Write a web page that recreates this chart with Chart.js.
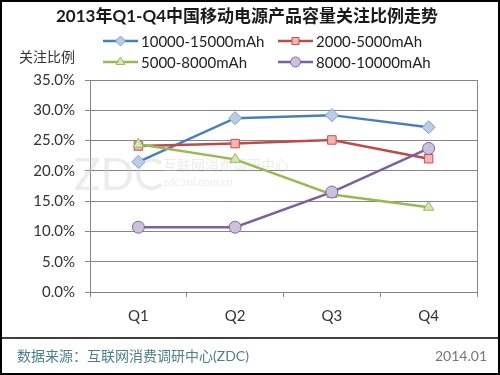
<!DOCTYPE html>
<html>
<head>
<meta charset="utf-8">
<script src="https://cdn.jsdelivr.net/npm/chart.js@4/dist/chart.umd.min.js"></script>
<style>
  html, body { margin: 0; padding: 0; background: #fff; }
  #wrap { width: 500px; height: 375px; position: relative; }
</style>
</head>
<body>
<div id="wrap"><canvas id="trend-chart" width="500" height="375"></canvas></div>
<script>
var quarters = ['Q1', 'Q2', 'Q3', 'Q4'];
var seriesNames = ['10000-15000mAh', '2000-5000mAh', '5000-8000mAh', '8000-10000mAh'];
var cap10000to15000 = [21.5, 28.7, 29.2, 27.2];
var cap2000to5000 = [24.1, 24.5, 25.1, 22.0];
var cap5000to8000 = [24.4, 21.9, 16.1, 14.0];
var cap8000to10000 = [10.7, 10.7, 16.5, 23.7];
var yTicks = [0, 5, 10, 15, 20, 25, 30, 35];

var FONT = 'Lato, "Noto Sans CJK SC", sans-serif';

function series(i, data, line, fill, edge, style, order) {
    return {
        label: seriesNames[i],
        data: data,
        borderColor: line,
        borderWidth: 2.5,
        pointStyle: style,
        pointRadius: style === 'rectRot' ? 6.5 : 6,
        pointBackgroundColor: fill,
        pointBorderColor: edge,
        pointBorderWidth: 1,
        tension: 0,
        order: order
    };
}

// title, legend, axis name, footer, frame
var decorations = {
    id: 'decorations',
    beforeDatasetsDraw: function (chart) {
        var ctx = chart.ctx;
        ctx.save();
        ctx.fillStyle = 'rgba(200,200,200,0.35)';
        ctx.font = '44px ' + FONT;
        ctx.textBaseline = 'alphabetic';
        ctx.fillText('ZDC', 74, 190);
        ctx.font = '14px ' + FONT;
        ctx.fillText('互联网消费调研中心', 163, 170);
        ctx.font = '11px ' + FONT;
        ctx.fillText('zdc.zol.com.cn', 163, 186);
        // right border of plot
        var a = chart.chartArea;
        ctx.strokeStyle = '#868686';
        ctx.lineWidth = 1;
        ctx.beginPath();
        ctx.moveTo(Math.round(a.right) + 0.5, a.top);
        ctx.lineTo(Math.round(a.right) + 0.5, a.bottom);
        ctx.stroke();
        ctx.restore();
    },
    afterDraw: function (chart) {
        var ctx = chart.ctx;
        ctx.save();
        ctx.textBaseline = 'middle';

        ctx.fillStyle = '#1a1a1a';
        ctx.font = 'bold 17px ' + FONT;
        ctx.textAlign = 'center';
        ctx.fillText('2013年Q1-Q4中国移动电源产品容量关注比例走势', 247, 17);

        ctx.font = '14px ' + FONT;
        ctx.textAlign = 'left';
        ctx.fillStyle = '#333';
        ctx.fillText('关注比例', 19, 57);

        var pos = [[103, 41], [278, 41], [103, 62], [278, 62]];
        chart.data.datasets.forEach(function (ds, i) {
            var x = pos[i][0], y = pos[i][1];
            ctx.strokeStyle = ds.borderColor;
            ctx.lineWidth = 2.5;
            ctx.beginPath();
            ctx.moveTo(x, y);
            ctx.lineTo(x + 35, y);
            ctx.stroke();
            ctx.fillStyle = ds.pointBackgroundColor;
            ctx.strokeStyle = ds.pointBorderColor;
            ctx.lineWidth = 1;
            Chart.helpers.drawPoint(ctx, { pointStyle: ds.pointStyle, radius: 5, rotation: 0, borderWidth: 1 }, x + 17.5, y);
            ctx.fillStyle = '#222';
            ctx.font = '15px ' + FONT;
            ctx.fillText(ds.label, x + 38, y + 1);
        });

        ctx.strokeStyle = '#000';
        ctx.lineWidth = 1.5;
        ctx.beginPath();
        ctx.moveTo(0, 338);
        ctx.lineTo(500, 338);
        ctx.stroke();
        ctx.lineWidth = 2;
        ctx.strokeRect(1, 1, 498, 373);

        ctx.font = '14px ' + FONT;
        ctx.fillStyle = '#4d7f8e';
        ctx.fillText('数据来源：互联网消费调研中心(ZDC)', 17, 356);
        ctx.textAlign = 'right';
        ctx.fillStyle = '#777';
        ctx.fillText('2014.01', 487, 356);
        ctx.restore();
    }
};

new Chart(document.getElementById('trend-chart').getContext('2d'), {
    type: 'line',
    data: {
        labels: quarters,
        datasets: [
            series(0, cap10000to15000, '#4a7ebb', '#b9cde5', '#7f9fcf', 'rectRot', 4),
            series(1, cap2000to5000, '#be4b48', '#f2b5b3', '#c0504d', 'rect', 3),
            series(2, cap5000to8000, '#98b954', '#d7e4bd', '#9bbb59', 'triangle', 2),
            series(3, cap8000to10000, '#7d5fa0', '#ccc1da', '#8064a2', 'circle', 1)
        ]
    },
    options: {
        responsive: false,
        animation: false,
        layout: { padding: { left: 10, right: 23, top: 80, bottom: 43 } },
        plugins: { legend: { display: false }, title: { display: false }, tooltip: { enabled: false } },
        scales: {
            x: {
                offset: true,
                grid: { offset: true, drawOnChartArea: false, drawTicks: true, tickLength: 5, color: '#868686' },
                border: { color: '#868686' },
                ticks: { color: '#333', font: { size: 15, family: FONT }, padding: 10 },
                afterFit: function (s) { s.height = 40; }
            },
            y: {
                min: 0,
                max: 35,
                afterBuildTicks: function (s) { s.ticks = yTicks.map(function (v) { return { value: v }; }); },
                grid: { color: '#868686', tickLength: 5 },
                border: { color: '#868686' },
                ticks: {
                    color: '#333',
                    font: { size: 15, family: FONT },
                    padding: 10,
                    callback: function (v) { return v.toFixed(1) + '%'; }
                },
                afterFit: function (s) { s.width = 80; }
            }
        }
    },
    plugins: [decorations]
});
</script>
</body>
</html>
